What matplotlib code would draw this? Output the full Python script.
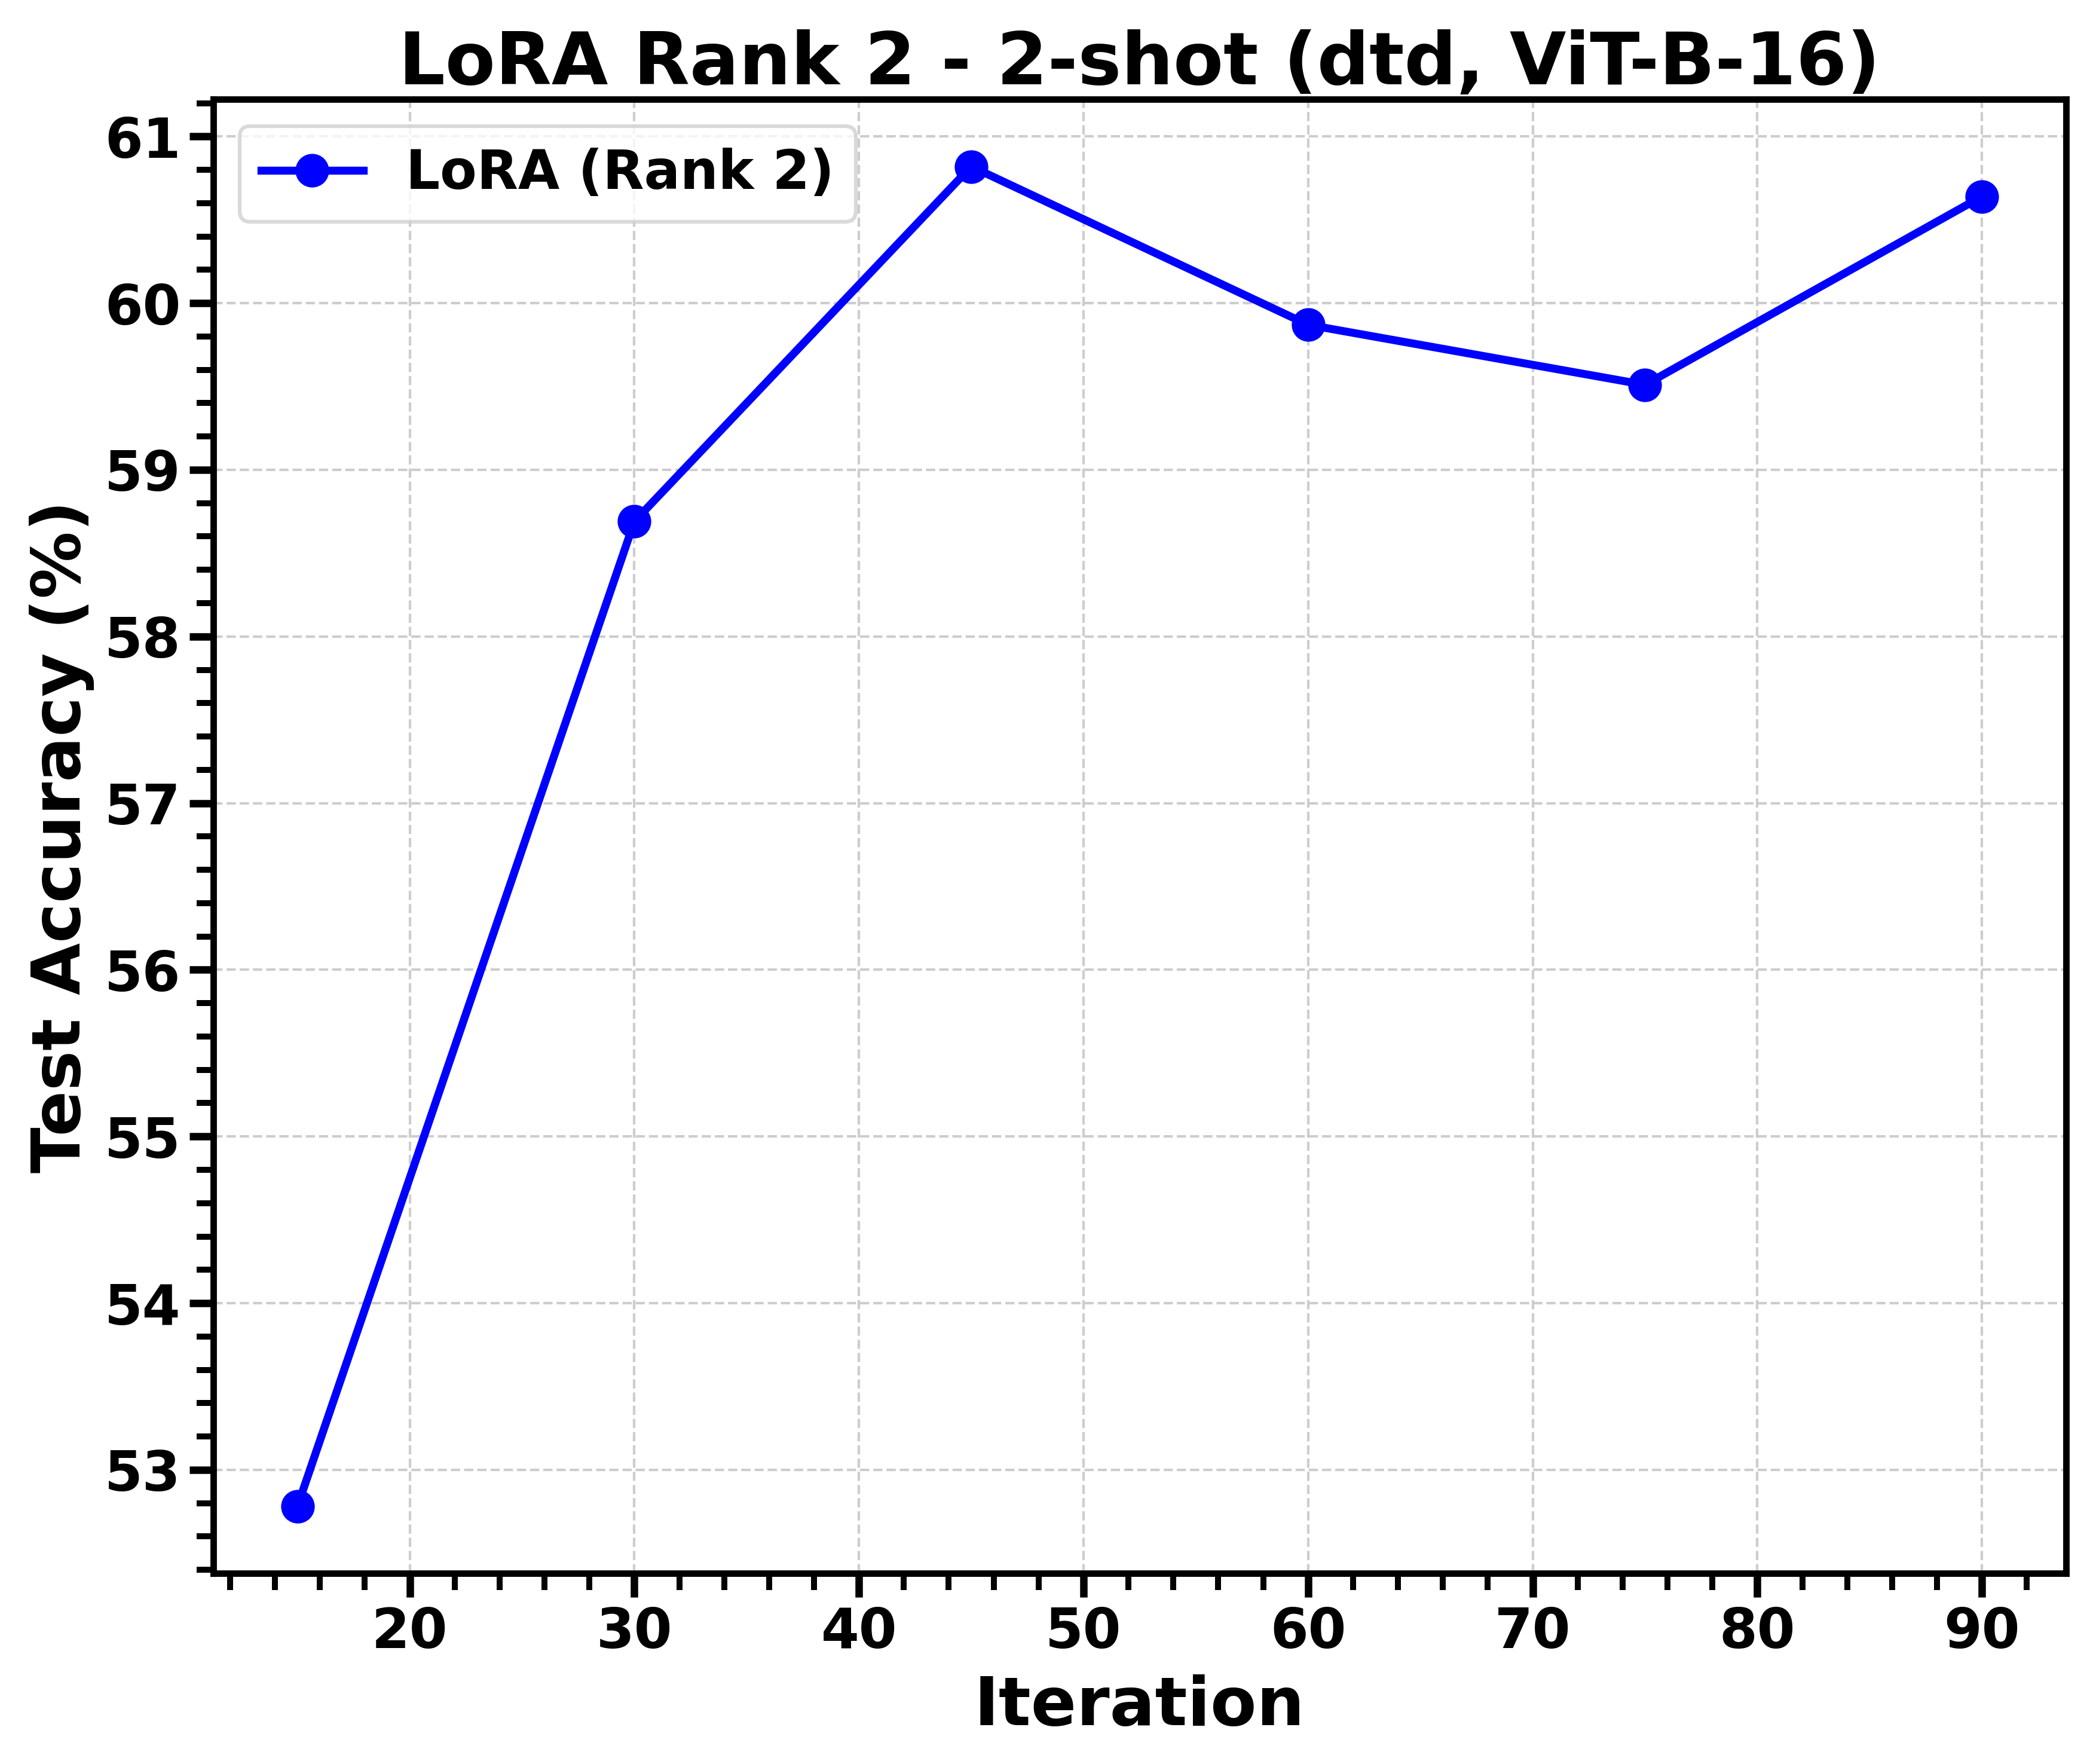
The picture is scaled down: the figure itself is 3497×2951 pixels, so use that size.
import numpy as np
import matplotlib
matplotlib.use('Agg')
import matplotlib.pyplot as plt
from matplotlib.ticker import MultipleLocator

# data
iterations = [15, 30, 45, 60, 75, 90]
accuracy = [52.78, 58.69, 60.82, 59.87, 59.51, 60.64]

plt.rcParams['font.family'] = ['DejaVu Sans']
plt.rcParams['font.weight'] = 'bold'

fig = plt.figure(figsize=(3497 / 300, 2951 / 300), dpi=300)
ax = fig.add_axes([0.102, 0.108, 0.8866, 0.8356])

ax.plot(iterations, accuracy, color='blue', marker='o', linewidth=3.2,
        markersize=12.5, label='LoRA (Rank 2)')

ax.set_title('LoRA Rank 2 - 2-shot (dtd, ViT-B-16)', fontsize=29.3, fontweight='bold')
ax.set_xlabel('Iteration', fontsize=27, fontweight='bold', labelpad=6)
ax.set_ylabel('Test Accuracy (%)', fontsize=27, fontweight='bold')

ax.xaxis.set_major_locator(MultipleLocator(10))
ax.xaxis.set_minor_locator(MultipleLocator(2))
ax.yaxis.set_major_locator(MultipleLocator(1))
ax.yaxis.set_minor_locator(MultipleLocator(0.2))

ax.tick_params(which='major', length=9.5, width=3, labelsize=22)
ax.tick_params(which='minor', length=6.7, width=2.4)
for lab in ax.get_xticklabels() + ax.get_yticklabels():
    lab.set_fontweight('bold')

for sp in ax.spines.values():
    sp.set_linewidth(2.6)

ax.grid(True, which='major', linestyle='--', color='#c8c8c8', linewidth=1, alpha=0.9)

leg = ax.legend(loc='upper left', fontsize=21.5, frameon=True, handlelength=1.9)
leg.get_frame().set_edgecolor('#d0d0d0')
leg.get_frame().set_linewidth(1.5)
for t in leg.get_texts():
    t.set_fontweight('bold')

fig.savefig('out.png', dpi=300)
